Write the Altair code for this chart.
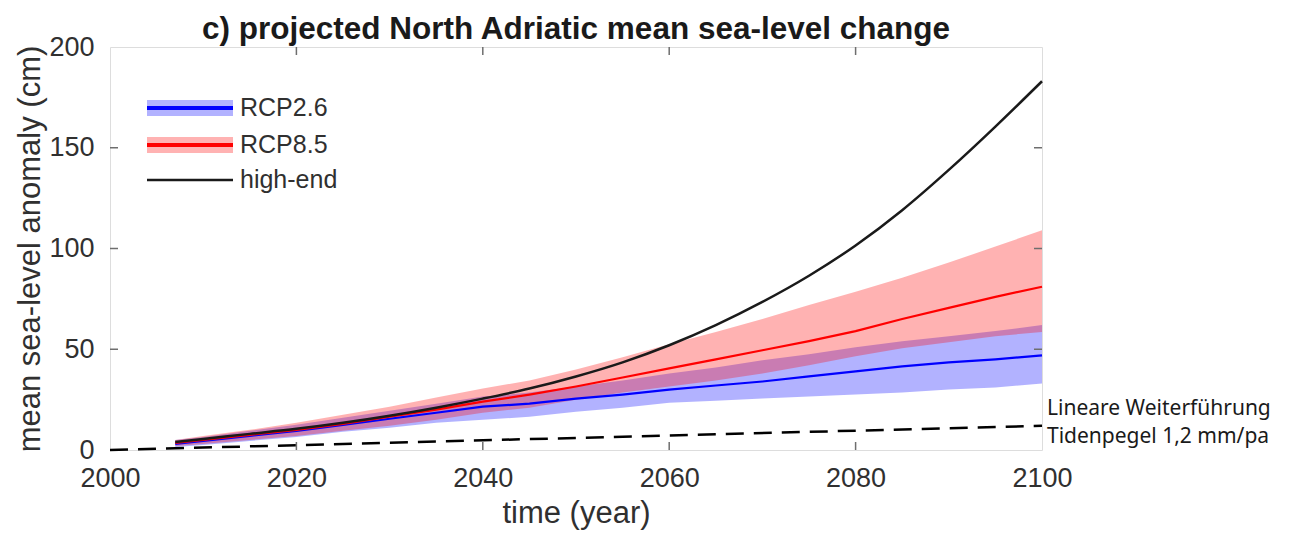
import altair as alt
import pandas as pd

# ---------------- data ----------------
years = [2007, 2010, 2015, 2020, 2025, 2030, 2035, 2040, 2045, 2050,
         2055, 2060, 2065, 2070, 2075, 2080, 2085, 2090, 2095, 2100]

rcp26_mean = [3.0, 4.5, 7.0, 9.5, 12.5, 15.5, 18.5, 21.5, 23.0, 25.5,
              27.5, 30.0, 32.0, 34.0, 36.5, 39.0, 41.5, 43.5, 45.0, 47.0]
rcp26_lo = [1.5, 2.5, 4.5, 6.5, 9.0, 11.0, 13.5, 15.0, 16.5, 19.0,
            21.0, 23.5, 24.5, 25.5, 26.5, 27.5, 28.5, 30.0, 31.0, 33.0]
rcp26_hi = [5.0, 6.5, 9.5, 12.5, 16.0, 19.5, 23.0, 26.5, 28.5, 31.5,
            34.5, 38.0, 41.0, 44.5, 47.5, 51.0, 54.0, 56.5, 59.0, 62.0]

rcp85_mean = [3.5, 5.0, 7.5, 10.0, 13.0, 16.5, 20.0, 24.0, 27.5, 31.5,
              36.0, 40.5, 45.0, 49.5, 54.0, 59.0, 65.0, 70.5, 76.0, 81.0]
rcp85_lo = [2.0, 3.0, 5.0, 7.0, 9.5, 12.0, 15.0, 18.5, 21.0, 25.0,
            28.5, 31.5, 34.5, 38.0, 42.0, 46.5, 50.5, 53.5, 56.5, 58.5]
rcp85_hi = [5.0, 7.0, 10.0, 13.5, 17.5, 21.5, 26.0, 30.5, 34.5, 40.0,
            46.0, 52.5, 58.5, 65.0, 72.0, 78.5, 85.5, 93.0, 101.0, 109.0]

high_end = [4.0, 5.5, 8.0, 10.5, 13.5, 17.0, 21.0, 25.5, 30.5, 36.5,
            43.5, 52.0, 62.0, 73.5, 86.5, 101.5, 119.0, 139.0, 160.5, 183.0]

trend_years = [2000, 2100]
trend_values = [0.0, 12.0]

x_ticks = [2000, 2020, 2040, 2060, 2080, 2100]
y_ticks = [0, 50, 100, 150, 200]
x_inner_ticks = [2020, 2040, 2060, 2080]
y_inner_ticks = [50, 100, 150]

legend_labels = ["RCP2.6", "RCP8.5", "high-end"]
note_lines = ["Lineare Weiterführung", "Tidenpegel 1,2 mm/pa"]

# ---------------- layout ----------------
W, H = 932, 403
FONT = "Liberation Sans"
TXT = "#303030"

df = pd.DataFrame({
    "year": years,
    "m26": rcp26_mean, "lo26": rcp26_lo, "hi26": rcp26_hi,
    "m85": rcp85_mean, "lo85": rcp85_lo, "hi85": rcp85_hi,
    "high": high_end,
})
trend = pd.DataFrame({"year": trend_years, "v": trend_values})

xs = alt.Scale(domain=[2000, 2100], nice=False, zero=False)
ys = alt.Scale(domain=[0, 200], nice=False)

xaxis = alt.Axis(values=x_ticks, format="d", tickSize=0, domain=False, grid=False,
                 labelFont=FONT, labelFontSize=27, labelColor=TXT, labelPadding=15,
                 labelFlush=False, labelOverlap=False,
                 title="time (year)", titleFont=FONT, titleFontSize=31,
                 titleFontWeight="normal", titleColor=TXT, titlePadding=7)
yaxis = alt.Axis(values=y_ticks, tickSize=0, domain=False, grid=False,
                 labelFont=FONT, labelFontSize=27, labelColor=TXT, labelPadding=16,
                 labelFlush=False, labelOverlap=False,
                 title="mean sea-level anomaly (cm)", titleFont=FONT, titleFontSize=31,
                 titleFontWeight="normal", titleColor=TXT, titlePadding=2)


def X(field):
    return alt.X(field, scale=xs, axis=xaxis)


def Y(field):
    return alt.Y(field, scale=ys, axis=yaxis)


base = alt.Chart(df)

band26 = base.mark_area(color="#0000ff", opacity=0.3).encode(
    x=X("year:Q"), y=Y("lo26:Q"), y2="hi26:Q")
band85 = base.mark_area(color="#ff0000", opacity=0.3).encode(
    x=X("year:Q"), y=Y("lo85:Q"), y2="hi85:Q")
trend_line = alt.Chart(trend).mark_line(color="black", strokeWidth=2.5,
                                        strokeDash=[18, 10]).encode(
    x=X("year:Q"), y=Y("v:Q"))
line26 = base.mark_line(color="#0000ff", strokeWidth=2.2).encode(
    x=X("year:Q"), y=Y("m26:Q"))
line85 = base.mark_line(color="#ff0000", strokeWidth=2.2).encode(
    x=X("year:Q"), y=Y("m85:Q"))
line_high = base.mark_line(color="#1a1a1a", strokeWidth=2.5, interpolate="monotone").encode(
    x=X("year:Q"), y=Y("high:Q"))

# inward ticks (MATLAB box style)
xt = alt.Chart(pd.DataFrame({"t": x_inner_ticks}))
yt = alt.Chart(pd.DataFrame({"t": y_inner_ticks}))
TICK = "#6e6e6e"
ticks_bottom = xt.mark_rule(color=TICK, strokeWidth=1.5).encode(
    x=X("t:Q"), y=alt.value(H), y2=alt.value(H - 8))
ticks_top = xt.mark_rule(color=TICK, strokeWidth=1.5).encode(
    x=X("t:Q"), y=alt.value(0), y2=alt.value(8))
ticks_left = yt.mark_rule(color=TICK, strokeWidth=1.5).encode(
    y=Y("t:Q"), x=alt.value(0), x2=alt.value(8))
ticks_right = yt.mark_rule(color=TICK, strokeWidth=1.5).encode(
    y=Y("t:Q"), x=alt.value(W), x2=alt.value(W - 8))

# legend (manual, to show band + line)
LX1, LX2 = 37, 123
LY = [61, 98, 133]
one = alt.Chart(pd.DataFrame({"d": [0]}))
leg_b_band = one.mark_rule(color="#0000ff", opacity=0.3, strokeWidth=16).encode(
    x=alt.value(LX1), x2=alt.value(LX2), y=alt.value(LY[0]))
leg_b_line = one.mark_rule(color="#0000ff", strokeWidth=4).encode(
    x=alt.value(LX1), x2=alt.value(LX2), y=alt.value(LY[0]))
leg_r_band = one.mark_rule(color="#ff0000", opacity=0.3, strokeWidth=16).encode(
    x=alt.value(LX1), x2=alt.value(LX2), y=alt.value(LY[1]))
leg_r_line = one.mark_rule(color="#ff0000", strokeWidth=4).encode(
    x=alt.value(LX1), x2=alt.value(LX2), y=alt.value(LY[1]))
leg_k_line = one.mark_rule(color="#1a1a1a", strokeWidth=2.5).encode(
    x=alt.value(LX1), x2=alt.value(LX2), y=alt.value(LY[2]))
leg_text = alt.Chart(pd.DataFrame({"label": legend_labels, "py": LY})).mark_text(
    align="left", baseline="middle", font=FONT, fontSize=25, color=TXT
).encode(x=alt.value(130), y=alt.Y("py:Q", scale=None), text="label:N")

# annotation for dashed line
note = alt.Chart(pd.DataFrame({"t": note_lines, "py": [368, 396]})).mark_text(
    align="left", baseline="alphabetic", font="Noto Sans", fontSize=21, color="#1a1a1a"
).encode(x=alt.value(937), y=alt.Y("py:Q", scale=None), text="t:N")

chart = alt.layer(
    band26, band85, trend_line, line26, line85, line_high,
    ticks_bottom, ticks_top, ticks_left, ticks_right,
    leg_b_band, leg_b_line, leg_r_band, leg_r_line, leg_k_line, leg_text, note,
).properties(
    width=W, height=H,
    title=alt.TitleParams("c) projected North Adriatic mean sea-level change",
                          font=FONT, fontSize=31.5, fontWeight="bold",
                          color="#1a1a1a", anchor="middle", offset=-12),
    padding={"left": 102, "top": 39, "right": 240, "bottom": 87},
    autosize=alt.AutoSizeParams(type="none"),
).configure_view(
    stroke="#7a7a7a", strokeWidth=1.5
).configure(background="white")

chart.save("out.html", embed_options={"renderer": "svg", "actions": False})
